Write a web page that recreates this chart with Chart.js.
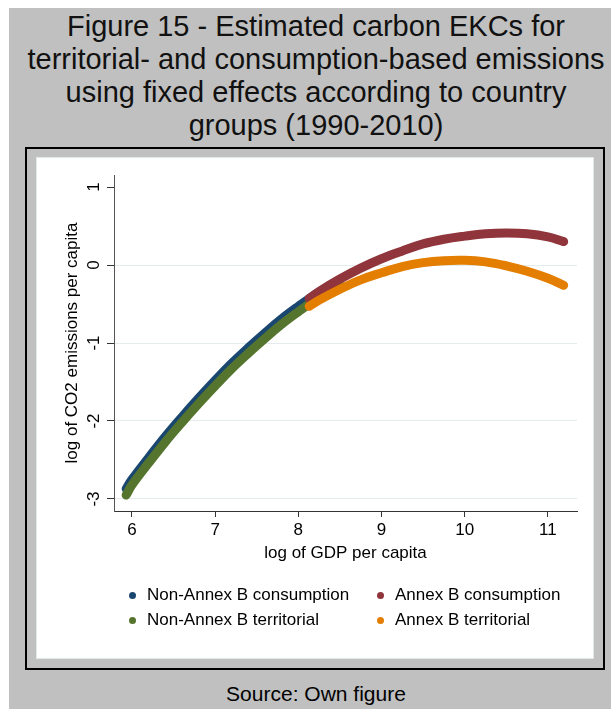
<!DOCTYPE html>
<html>
<head>
<meta charset="utf-8">
<script src="https://cdn.jsdelivr.net/npm/chart.js@4"></script>
<style>
html, body { margin: 0; padding: 0; background: #fff; }
body { width: 611px; height: 709px; position: relative; overflow: hidden; font-family: "Liberation Sans", Arial, sans-serif; color: #000; }
#bg { position: absolute; left: 9px; top: 8px; width: 602px; height: 701px; background: #c0c0c0; }
#title { position: absolute; left: 20px; width: 592px; top: 10px; text-align: center; font-size: 29px; line-height: 33px; color: #111; }
#frame { position: absolute; left: 25px; top: 147px; width: 580px; height: 523px; box-sizing: border-box; border: 2px solid #000; }
#panel { position: absolute; left: 36px; top: 157px; width: 558px; height: 502px; background: #fff; box-shadow: inset 0 0 0 1px #e0e8ea; }
#panel canvas { position: absolute; left: 0; top: 0; }
.item { position: absolute; font-size: 17px; line-height: 20px; white-space: nowrap; }
.dot { position: absolute; width: 7px; height: 7px; border-radius: 50%; }
#source { position: absolute; left: 20px; width: 592px; top: 682px; text-align: center; font-size: 21px; line-height: 24px; }
</style>
</head>
<body>
<div id="bg"></div>
<div id="title">Figure 15 - Estimated carbon EKCs for<br>territorial- and consumption-based emissions<br>using fixed effects according to country<br>groups (1990-2010)</div>
<div id="frame"></div>
<div id="panel"><canvas id="chart" width="558" height="502"></canvas></div>
<div id="legend"></div>
<div id="source">Source: Own figure</div>
<script>
// log GDP per capita (x) for each country group
var gdpNonAnnex = [5.93, 6.0, 6.2, 6.4, 6.6, 6.8, 7.0, 7.2, 7.4, 7.6, 7.8, 8.0, 8.2, 8.4, 8.5];
var gdpAnnex = [8.13, 8.25, 8.5, 8.75, 9.0, 9.25, 9.5, 9.75, 10.0, 10.25, 10.5, 10.75, 11.0, 11.19];

// fitted log CO2 per capita
var nonAnnexConsumption = [-2.87, -2.75, -2.47, -2.20, -1.95, -1.71, -1.48, -1.26, -1.06, -0.87, -0.69, -0.53, -0.38, -0.25, -0.19];
var nonAnnexTerritorial = [-2.95, -2.82, -2.54, -2.27, -2.02, -1.78, -1.55, -1.33, -1.13, -0.94, -0.76, -0.60, -0.45, -0.32, -0.26];
var annexConsumption = [-0.43, -0.34, -0.18, -0.04, 0.08, 0.18, 0.27, 0.33, 0.37, 0.40, 0.41, 0.40, 0.36, 0.30];
var annexTerritorial = [-0.53, -0.45, -0.31, -0.19, -0.10, -0.02, 0.03, 0.055, 0.06, 0.04, -0.01, -0.08, -0.17, -0.26];

var seriesNames = ['Non-Annex B consumption', 'Annex B consumption', 'Non-Annex B territorial', 'Annex B territorial'];
var xTicks = [6, 7, 8, 9, 10, 11];
var yTicks = [-3, -2, -1, 0, 1];

var colors = ['#1a476f', '#90353b', '#55752f', '#e37e00'];

function pts(xs, ys) {
    return xs.map(function (x, i) { return {x: x, y: ys[i]}; });
}

function line(i, xs, ys, order) {
    return {
        label: seriesNames[i],
        data: pts(xs, ys),
        showLine: true,
        borderColor: colors[i],
        backgroundColor: colors[i],
        borderWidth: 9,
        borderCapStyle: 'round',
        borderJoinStyle: 'round',
        tension: 0.4,
        pointRadius: 0,
        order: order
    };
}

// html legend, two columns like the original
var legendPos = [[132, 595], [380, 595], [132, 620], [380, 620]];
var legend = document.getElementById('legend');
seriesNames.forEach(function (name, i) {
    var p = legendPos[i];
    var d = document.createElement('div');
    d.className = 'dot';
    d.style.left = (p[0] - 3.5) + 'px';
    d.style.top = (p[1] - 3.5) + 'px';
    d.style.background = colors[i];
    legend.appendChild(d);
    var t = document.createElement('div');
    t.className = 'item';
    t.style.left = (p[0] + 15) + 'px';
    t.style.top = (p[1] - 10) + 'px';
    t.textContent = name;
    legend.appendChild(t);
});

// y tick labels are rotated in the original
var yTickLabels = {
    id: 'yTickLabels',
    afterDraw: function (chart) {
        var s = chart.scales.y;
        var c = chart.ctx;
        c.save();
        c.font = '17px "Liberation Sans", Arial, sans-serif';
        c.fillStyle = '#000';
        c.textAlign = 'center';
        c.textBaseline = 'middle';
        s.ticks.forEach(function (t) {
            c.save();
            c.translate(58, s.getPixelForValue(t.value));
            c.rotate(-Math.PI / 2);
            c.fillText(String(t.value), 0, 0);
            c.restore();
        });
        c.restore();
    }
};

Chart.defaults.font.family = '"Liberation Sans", Arial, sans-serif';

var ctx = document.getElementById('chart');
var chart = new Chart(ctx, {
    type: 'scatter',
    data: {
        datasets: [
            line(0, gdpNonAnnex, nonAnnexConsumption, 3),
            line(1, gdpAnnex, annexConsumption, 1),
            line(2, gdpNonAnnex, nonAnnexTerritorial, 2),
            line(3, gdpAnnex, annexTerritorial, 0)
        ]
    },
    options: {
        responsive: false,
        animation: false,
        devicePixelRatio: 1,
        layout: {padding: {left: 0, right: 17, top: 18, bottom: 91}},
        plugins: {
            legend: {display: false},
            tooltip: {enabled: false}
        },
        scales: {
            x: {
                type: 'linear',
                min: 5.784,
                max: 11.35,
                afterBuildTicks: function (s) { s.ticks = xTicks.map(function (v) { return {value: v}; }); },
                afterFit: function (s) { s.height = 57; },
                grid: {drawOnChartArea: false, tickLength: 6, tickColor: '#333'},
                border: {color: '#333'},
                ticks: {font: {size: 17}, color: '#000', padding: 3, maxRotation: 0, autoSkip: false},
                title: {display: true, text: 'log of GDP per capita', font: {size: 17}, color: '#000', padding: {top: 0, bottom: 4}}
            },
            y: {
                type: 'linear',
                min: -3.154,
                max: 1.154,
                afterBuildTicks: function (s) { s.ticks = yTicks.map(function (v) { return {value: v}; }); },
                afterFit: function (s) { s.width = 78; },
                grid: {
                    color: function (c) { return c.tick && c.tick.value === 1 ? 'rgba(0,0,0,0)' : '#e4ecec'; },
                    tickLength: 7,
                    tickColor: '#333'
                },
                border: {color: '#555'},
                ticks: {display: false},
                title: {display: true, text: 'log of CO2 emissions per capita', font: {size: 17}, color: '#000', padding: {top: 26, bottom: 0}}
            }
        }
    },
    plugins: [yTickLabels]
});
</script>
</body>
</html>
